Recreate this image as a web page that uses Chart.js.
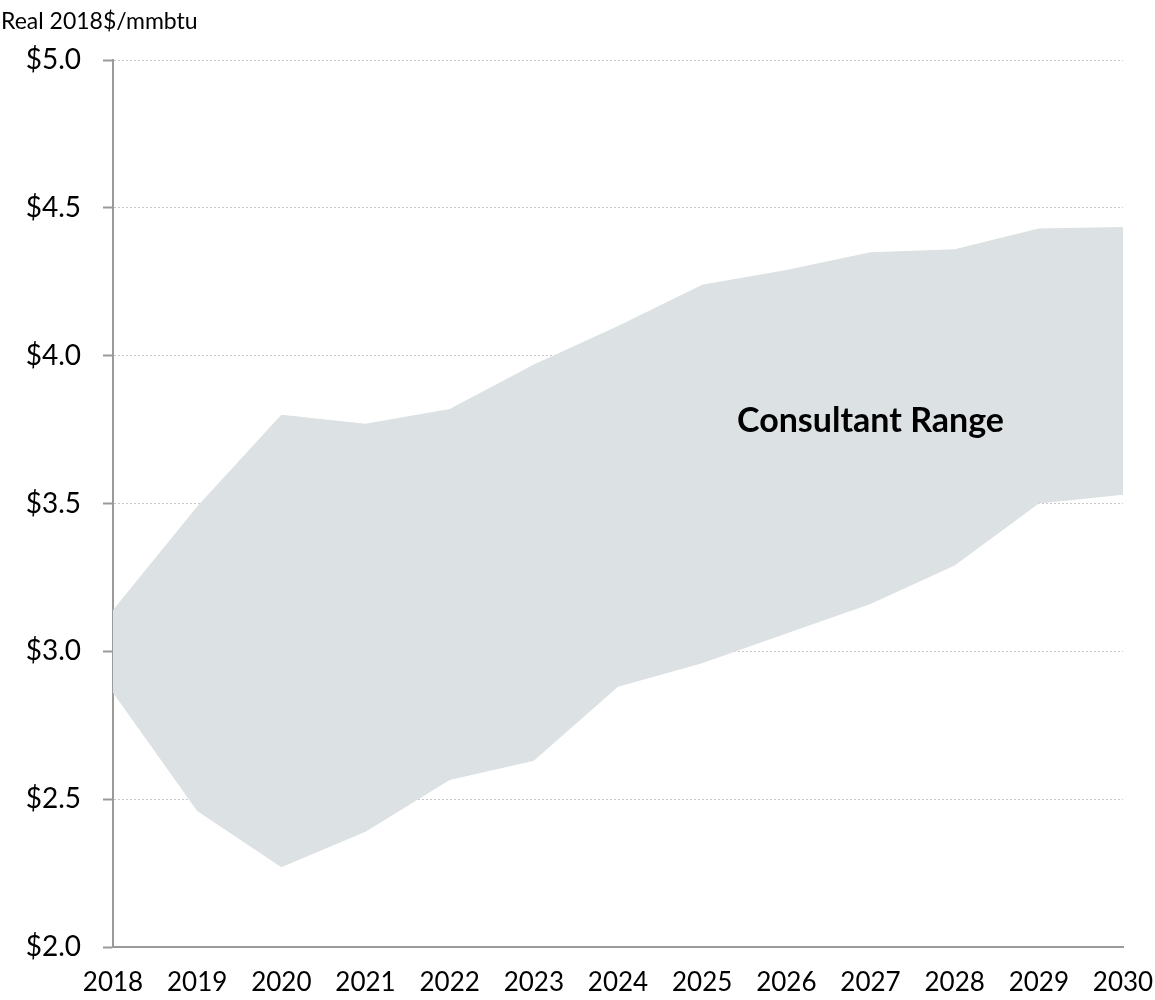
<!DOCTYPE html>
<html>
<head>
<meta charset="utf-8">
<script src="https://cdn.jsdelivr.net/npm/chart.js@4.4.1/dist/chart.umd.min.js"></script>
<style>
  html, body { margin: 0; padding: 0; background: #fff; }
  #wrap { width: 1155px; height: 1000px; position: relative; }
</style>
</head>
<body>
<div id="wrap"><canvas id="rangeChart" width="1155" height="1000"></canvas></div>
<script>
// Chart data
const years = ["2018", "2019", "2020", "2021", "2022", "2023", "2024", "2025", "2026", "2027", "2028", "2029", "2030"];
const rangeLow = [2.86, 2.46, 2.27, 2.39, 2.565, 2.63, 2.88, 2.96, 3.06, 3.16, 3.29, 3.50, 3.53];
const rangeHigh = [3.14, 3.49, 3.80, 3.77, 3.82, 3.97, 4.10, 4.24, 4.29, 4.35, 4.36, 4.43, 4.435];
const yTicks = [2.0, 2.5, 3.0, 3.5, 4.0, 4.5, 5.0];

const FONT = "Lato, 'Open Sans', sans-serif";
const axisGray = "#9a9a9a";

// Axis unit label + range annotation
const extras = {
  id: "extras",
  afterDraw(chart) {
    const ctx = chart.ctx;
    const x = chart.scales.x;
    const y = chart.scales.y;
    ctx.save();
    ctx.fillStyle = "#000";
    ctx.font = "23px " + FONT;
    ctx.textAlign = "left";
    ctx.textBaseline = "middle";
    ctx.fillText("Real 2018$/mmbtu", 1, 22);

    ctx.font = "bold 34px " + FONT;
    ctx.textAlign = "center";
    ctx.fillText("Consultant Range", x.getPixelForValue(9), y.getPixelForValue(3.78));
    ctx.restore();
  }
};

const ctx = document.getElementById("rangeChart").getContext("2d");
const chart = new Chart(ctx, {
  type: "line",
  data: {
    labels: years,
    datasets: [
      {
        label: "Low",
        data: rangeLow,
        borderWidth: 0,
        pointRadius: 0,
        fill: false,
      },
      {
        label: "High",
        data: rangeHigh,
        borderWidth: 0,
        pointRadius: 0,
        backgroundColor: "#dce1e3",
        fill: "-1",
      },
    ],
  },
  options: {
    responsive: false,
    animation: false,
    layout: { padding: { top: 60, right: 32, left: 0, bottom: 0 } },
    plugins: {
      legend: { display: false },
      tooltip: { enabled: false },
    },
    scales: {
      x: {
        grid: { drawOnChartArea: false, drawTicks: false },
        border: { color: axisGray, width: 2 },
        ticks: {
          color: "#000",
          font: { family: FONT, size: 26 },
          padding: 20,
          maxRotation: 0,
          autoSkip: false,
        },
        afterFit(scale) {
          scale.height = 53;
          scale.paddingLeft = 0;
          scale.paddingRight = 0;
        },
      },
      y: {
        min: 2.0,
        max: 5.0,
        afterBuildTicks(scale) {
          scale.ticks = yTicks.map((v) => ({ value: v }));
        },
        grid: {
          color: "#c8c8c8",
          lineWidth: 1,
          tickLength: 10,
          tickColor: axisGray,
          tickWidth: 2,
          tickBorderDash: [],
        },
        border: { color: axisGray, width: 2, dash: [2, 2] },
        ticks: {
          color: "#000",
          font: { family: FONT, size: 28 },
          padding: 22,
          callback: (v) => "$" + Number(v).toFixed(1),
        },
        afterFit(scale) {
          scale.width = 113;
          scale.paddingTop = 0;
          scale.paddingBottom = 0;
        },
      },
    },
  },
  plugins: [extras],
});
</script>
</body>
</html>
